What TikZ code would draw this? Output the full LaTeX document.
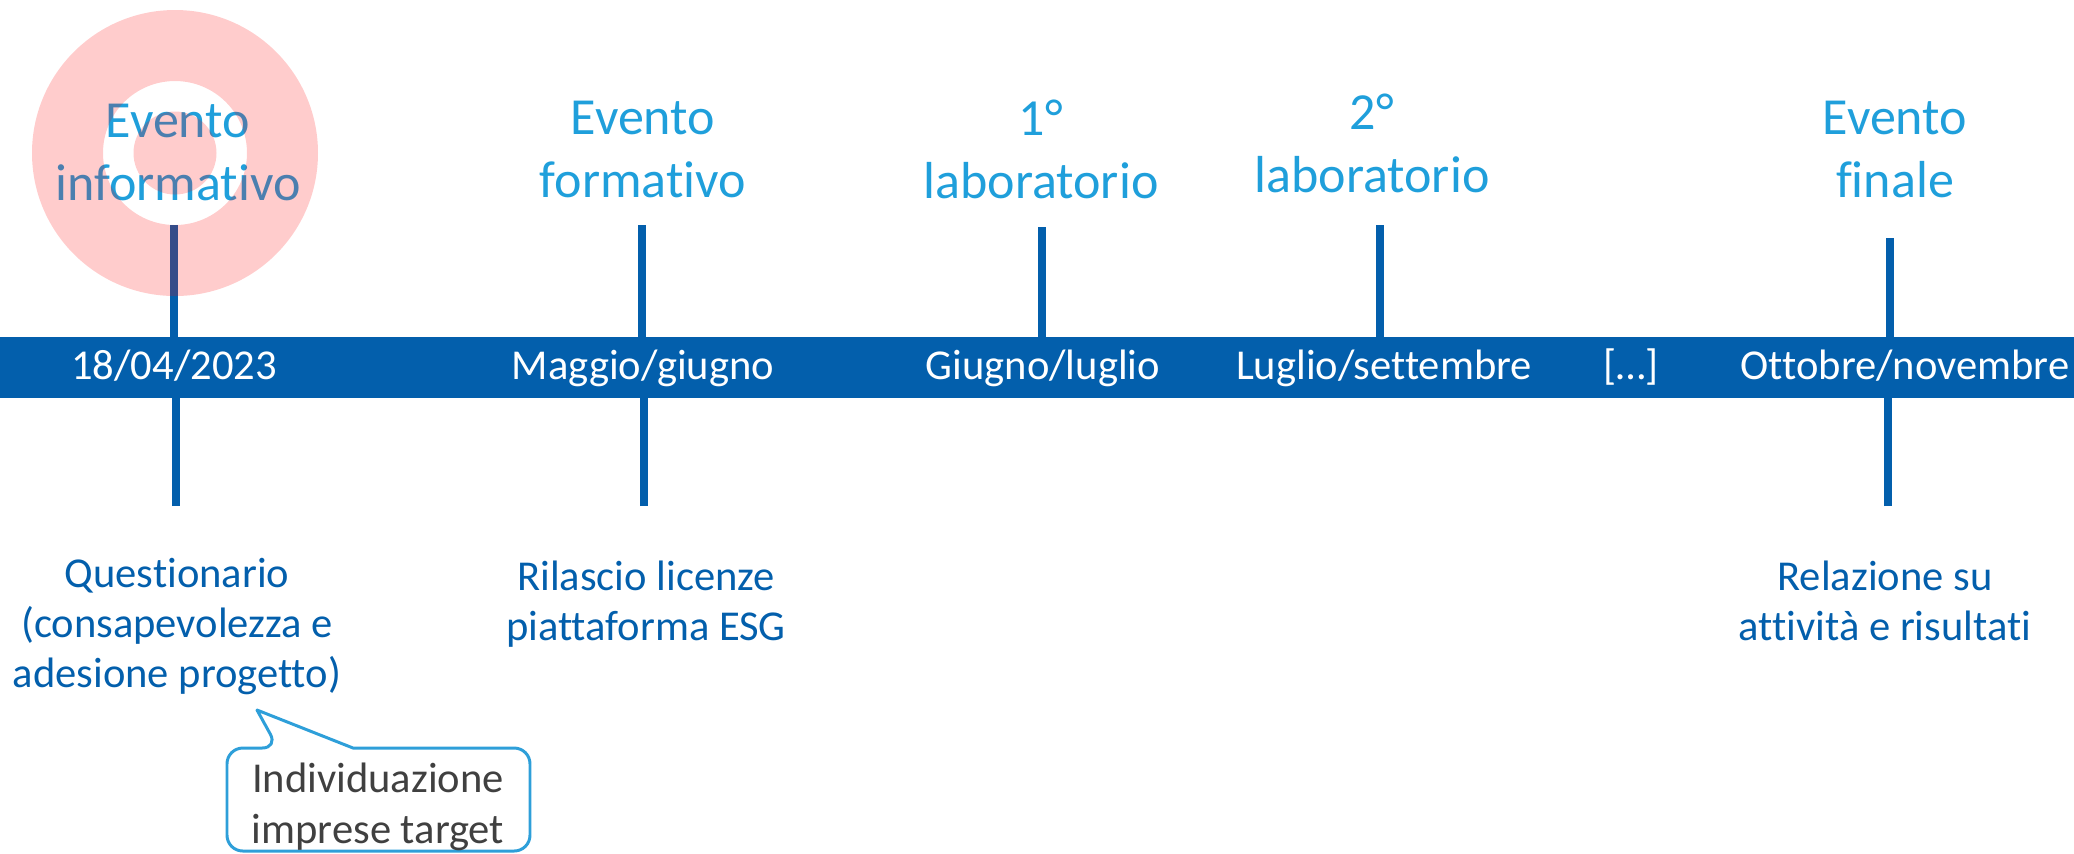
\documentclass[tikz,border=0pt]{standalone}
\usepackage{fontspec}
\setmainfont{Carlito}[Ligatures=NoCommon]
\definecolor{barblue}{HTML}{035FAC}
\definecolor{titleblue}{HTML}{1F9FDB}
\definecolor{notegray}{HTML}{404040}
\definecolor{noteline}{HTML}{2E9FD9}
\tikzset{
    eventtitle/.style={text=titleblue, align=center, anchor=base, inner sep=0pt,
        font=\fontsize{14.8}{17.9}\selectfont},
    datelabel/.style={text=white, anchor=base, inner sep=0pt,
        font=\fontsize{12.1}{14.2}\selectfont},
    tasklabel/.style={text=barblue, align=center, anchor=base, inner sep=0pt,
        font=\fontsize{12.1}{14.2}\selectfont},
    tickline/.style={barblue, line width=2pt},
}
\begin{document}
\begin{tikzpicture}[x=0.01cm,y=-0.01cm]
        \useasboundingbox (0,0) rectangle (2074,853);
        \clip (0,0) rectangle (2074,853);
        %% Ticks
        \coordinate (up1) at (174,225);
        \coordinate (up2) at (642,225);
        \coordinate (up3) at (1042,227);
        \coordinate (up4) at (1380,225);
        \coordinate (up5) at (1890,238);
        \coordinate (down1) at (176,506);
        \coordinate (down2) at (644,506);
        \coordinate (down5) at (1888,506);
        \foreach \i in {1,...,5}
            \draw[tickline] (up\i) -- (up\i |- 0,340);
        \foreach \i in {1,2,5}
            \draw[tickline] (down\i) -- (down\i |- 0,395);
        %% Timeline bar
        \fill[barblue] (0,337) rectangle (2074,398);
        %% Events (base = last line)
        \node[eventtitle] (ev1) at (178,200) {Evento\\informativo};
        \node[eventtitle] (ev2) at (643,197) {Evento\\formativo};
        \node[eventtitle] (ev3) at (1041,198) {1°\\laboratorio};
        \node[eventtitle] (ev4) at (1372,192) {2°\\laboratorio};
        \node[eventtitle] (ev5) at (1895,197) {Evento\\finale};
        %% Dates
        \node[datelabel] (d1) at (174,379) {18/04/2023};
        \node[datelabel] (d2) at (643,379) {Maggio/giugno};
        \node[datelabel] (d3) at (1043,379) {Giugno/luglio};
        \node[datelabel] (d4) at (1384,379) {Luglio/settembre};
        \node[datelabel] (d5) at (1631,379) {[…]};
        \node[datelabel] (d6) at (1905,379) {Ottobre/novembre};
        %% Outputs
        \node[tasklabel] (out1) at (177,687) {Questionario\\(consapevolezza e\\adesione progetto)};
        \node[tasklabel] (out2) at (646,640) {Rilascio licenze\\piattaforma ESG};
        \node[tasklabel] (out5) at (1885,640) {Relazione su\\attività e risultati};
        %% Callout
        \draw[noteline, line width=0.85pt, line join=round]
            (353,748) [rounded corners=4.5pt] -- (530,748) -- (530,851)
            -- (227,851) -- (227,748) -- (278,748) [sharp corners] -- (257,710) -- cycle;
        \node[tasklabel, text=notegray, font=\fontsize{12.1}{14.5}\selectfont]
            (note) at (378,843) {Individuazione\\imprese target};
        %% Target mark
        \fill[red, opacity=0.2, even odd rule]
            (175,153) circle (143) (175,153) circle (72) (175,153) circle (41.5);
\end{tikzpicture}
\end{document}
